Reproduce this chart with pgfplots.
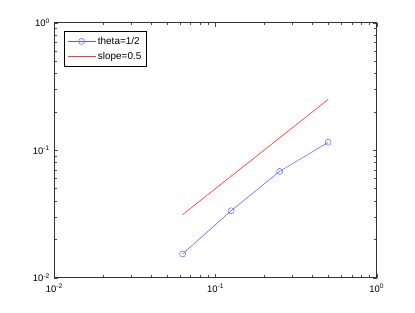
\documentclass[border=0pt]{standalone}
\usepackage{fontspec}
\setmainfont{Liberation Sans}
\usepackage{pgfplots}
\pgfplotsset{compat=1.18}
\usetikzlibrary{calc}
\definecolor{mblue}{RGB}{85,95,255}
\definecolor{mred}{RGB}{255,55,55}

\begin{document}
\begin{tikzpicture}
\begin{axis}[
    scale only axis,
    width=322.4bp, height=255bp,
    xmode=log, ymode=log,
    xmin=0.01, xmax=1, ymin=0.01, ymax=1,
    xtick={0.01,0.1,1}, ytick={0.01,0.1,1},
    xticklabels={10\textsuperscript{-2},10\textsuperscript{-1},10\textsuperscript{0}},
    yticklabels={10\textsuperscript{-2},10\textsuperscript{-1},10\textsuperscript{0}},
    tick align=inside,
    major tick length=4bp, minor tick length=2.5bp,
    tick style={black!70, line width=0.4pt},
    axis line style={black!80, line width=0.6pt},
    xticklabel style={font=\fontsize{9.5}{11}\selectfont, yshift=-3bp},
    yticklabel style={font=\fontsize{9.5}{11}\selectfont, xshift=-1bp},
    legend style={at={(0,1)}, anchor=north west, xshift=9.7bp, yshift=-8.6bp,
        draw=black, line width=0.6pt, font=\fontsize{10}{12}\selectfont,
        row sep=2.5bp, inner xsep=3bp, inner ysep=3.5bp, cells={anchor=west}},
    legend image code/.code={
        \draw[mark repeat=2, mark phase=2] plot coordinates {(0bp,0bp) (14bp,0bp) (28bp,0bp)};
    },
]
\addplot[mblue, line width=0.5pt, mark=o, mark size=3bp, mark options={line width=0.5pt}]
    coordinates {(0.0625,0.01535) (0.125,0.0335) (0.25,0.0682) (0.5,0.1153)};
\addlegendentry{theta=1/2}
\addplot[mred, line width=0.6pt]
    coordinates {(0.0625,0.03125) (0.5,0.25)};
\addlegendentry{slope=0.5}
\end{axis}
\path ($(current axis.south west)+(-54.3bp,-35.3bp)$) rectangle ($(current axis.north east)+(38.3bp,22.7bp)$);
\end{tikzpicture}
\end{document}
